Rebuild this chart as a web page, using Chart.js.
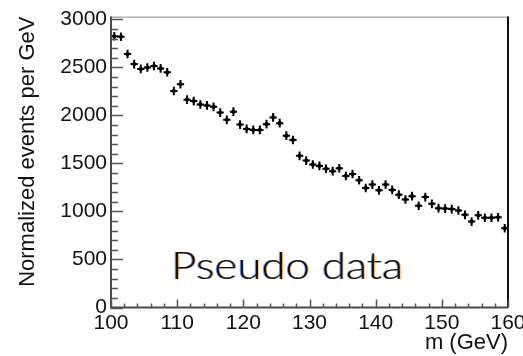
<!DOCTYPE html>
<html>
<head>
<meta charset="utf-8">
<title>Pseudo data</title>
<script src="https://cdn.jsdelivr.net/npm/chart.js@4"></script>
<style>
  html, body { margin: 0; padding: 0; background: #fff; overflow: hidden; }
  canvas { display: block; }
</style>
</head>
<body>
<canvas id="chart" width="545" height="356"></canvas>
<script>
// 1 GeV bins, centres from 100.5 to 159.5
const massBins = [
  100.5, 101.5, 102.5, 103.5, 104.5, 105.5, 106.5, 107.5, 108.5, 109.5,
  110.5, 111.5, 112.5, 113.5, 114.5, 115.5, 116.5, 117.5, 118.5, 119.5,
  120.5, 121.5, 122.5, 123.5, 124.5, 125.5, 126.5, 127.5, 128.5, 129.5,
  130.5, 131.5, 132.5, 133.5, 134.5, 135.5, 136.5, 137.5, 138.5, 139.5,
  140.5, 141.5, 142.5, 143.5, 144.5, 145.5, 146.5, 147.5, 148.5, 149.5,
  150.5, 151.5, 152.5, 153.5, 154.5, 155.5, 156.5, 157.5, 158.5, 159.5
];
const eventsPerGeV = [
  2825, 2820, 2640, 2535, 2485, 2500, 2515, 2490, 2450, 2255,
  2325, 2165, 2150, 2115, 2105, 2090, 2030, 1955, 2040, 1905,
  1860, 1850, 1850, 1910, 1980, 1920, 1790, 1745, 1580, 1530,
  1490, 1475, 1445, 1420, 1450, 1370, 1390, 1325, 1245, 1280,
  1220, 1280, 1225, 1175, 1125, 1160, 1060, 1150, 1080, 1035,
  1030, 1025, 1010, 965, 895, 960, 935, 935, 940, 825
];
const eventsErr = 45;      // vertical error half-length
const binHalfWidth = 0.55; // horizontal error half-length (GeV)

const xTicks = [100, 110, 120, 130, 140, 150, 160];
const yTicks = [0, 500, 1000, 1500, 2000, 2500, 3000];
const xMinorStep = 2;
const yMinorStep = 100;

const tickFont = '"Liberation Sans", Arial, Helvetica, sans-serif';

// error bars, drawn under the markers
const errorBars = {
  id: 'errorBars',
  beforeDatasetsDraw(chart) {
    const ctx = chart.ctx;
    const xs = chart.scales.x, ys = chart.scales.y;
    ctx.save();
    ctx.strokeStyle = '#000';
    ctx.lineWidth = 2;
    massBins.forEach((m, i) => {
      const v = eventsPerGeV[i];
      const px = xs.getPixelForValue(m);
      const py = ys.getPixelForValue(v);
      ctx.beginPath();
      ctx.moveTo(xs.getPixelForValue(m - binHalfWidth), py);
      ctx.lineTo(xs.getPixelForValue(m + binHalfWidth), py);
      ctx.moveTo(px, ys.getPixelForValue(v - eventsErr));
      ctx.lineTo(px, ys.getPixelForValue(v + eventsErr));
      ctx.stroke();
    });
    ctx.restore();
  }
};

// ROOT style frame with inward ticks, plus the text label
const frame = {
  id: 'frame',
  afterDraw(chart) {
    const ctx = chart.ctx;
    const a = chart.chartArea;
    const xs = chart.scales.x, ys = chart.scales.y;
    ctx.save();

    // top and right edges
    ctx.strokeStyle = '#8a8a8a';
    ctx.lineWidth = 1;
    ctx.beginPath();
    ctx.moveTo(a.left, a.top + 0.5);
    ctx.lineTo(a.right, a.top + 0.5);
    ctx.stroke();
    ctx.strokeStyle = '#111';
    ctx.lineWidth = 2;
    ctx.beginPath();
    ctx.moveTo(a.right, a.top);
    ctx.lineTo(a.right, a.bottom);
    ctx.stroke();

    // axes
    ctx.strokeStyle = '#4a4a4a';
    ctx.lineWidth = 2;
    ctx.beginPath();
    ctx.moveTo(a.left, a.top);
    ctx.lineTo(a.left, a.bottom);
    ctx.lineTo(a.right, a.bottom);
    ctx.stroke();

    // tick marks
    ctx.lineWidth = 1.5;
    ctx.strokeStyle = '#555';
    ctx.beginPath();
    for (let v = ys.min; v <= ys.max; v += yMinorStep) {
      const py = Math.round(ys.getPixelForValue(v)) + 0.5;
      const len = yTicks.includes(v) ? 12 : 7;
      ctx.moveTo(a.left, py);
      ctx.lineTo(a.left + len, py);
    }
    for (let v = xs.min; v <= xs.max; v += xMinorStep) {
      const px = Math.round(xs.getPixelForValue(v)) + 0.5;
      const len = xTicks.includes(v) ? 8 : 4;
      ctx.moveTo(px, a.bottom);
      ctx.lineTo(px, a.bottom - len);
    }
    ctx.stroke();

    // "Pseudo data" label
    const text = 'Pseudo data';
    ctx.font = '300 37px Lato, "Open Sans", sans-serif';
    ctx.textBaseline = 'alphabetic';
    ctx.textAlign = 'left';
    const w = ctx.measureText(text).width;
    const tx = xs.getPixelForValue(109.1);
    const ty = ys.getPixelForValue(300);
    ctx.translate(tx, ty);
    ctx.scale(232 / w, 1);
    ctx.fillStyle = 'rgba(40, 110, 255, 0.7)';
    ctx.fillText(text, -0.8, 0);
    ctx.fillStyle = 'rgba(255, 150, 40, 0.7)';
    ctx.fillText(text, 0.8, 0);
    ctx.fillStyle = '#111';
    ctx.fillText(text, 0, 0);
    ctx.restore();
  }
};

const ctx = document.getElementById('chart').getContext('2d');
new Chart(ctx, {
  type: 'scatter',
  data: {
    datasets: [{
      label: 'Pseudo data',
      data: massBins.map((m, i) => ({ x: m, y: eventsPerGeV[i] })),
      pointRadius: 2.1,
      pointBackgroundColor: '#000',
      pointBorderWidth: 0,
      showLine: false
    }]
  },
  options: {
    responsive: false,
    animation: false,
    layout: { padding: { top: 12.5, right: 37, bottom: 0, left: 0 } },
    plugins: {
      legend: { display: false },
      tooltip: { enabled: false }
    },
    scales: {
      x: {
        type: 'linear',
        min: 100,
        max: 160,
        afterBuildTicks: s => { s.ticks = xTicks.map(v => ({ value: v })); },
        afterFit: s => { s.height = 48.5; },
        grid: { display: false, drawTicks: false },
        border: { display: false },
        ticks: {
          font: { family: tickFont, size: 21 },
          color: '#111',
          padding: 3,
          maxRotation: 0,
          autoSkip: false,
          callback: v => String(v)
        },
        title: {
          display: true,
          text: 'm (GeV)',
          align: 'end',
          color: '#111',
          font: { family: tickFont, size: 22 },
          padding: { top: 0, bottom: 0 }
        }
      },
      y: {
        type: 'linear',
        min: 0,
        max: 3030,
        afterBuildTicks: s => { s.ticks = yTicks.map(v => ({ value: v })); },
        afterFit: s => { s.width = 111; },
        grid: { display: false, drawTicks: false },
        border: { display: false },
        ticks: {
          font: { family: tickFont, size: 21 },
          color: '#111',
          padding: 4,
          autoSkip: false,
          callback: v => String(v)
        },
        title: {
          display: true,
          text: 'Normalized events per GeV',
          align: 'end',
          color: '#111',
          font: { family: tickFont, size: 22 },
          padding: { top: 15, bottom: 0 }
        }
      }
    }
  },
  plugins: [errorBars, frame]
});
</script>
</body>
</html>
